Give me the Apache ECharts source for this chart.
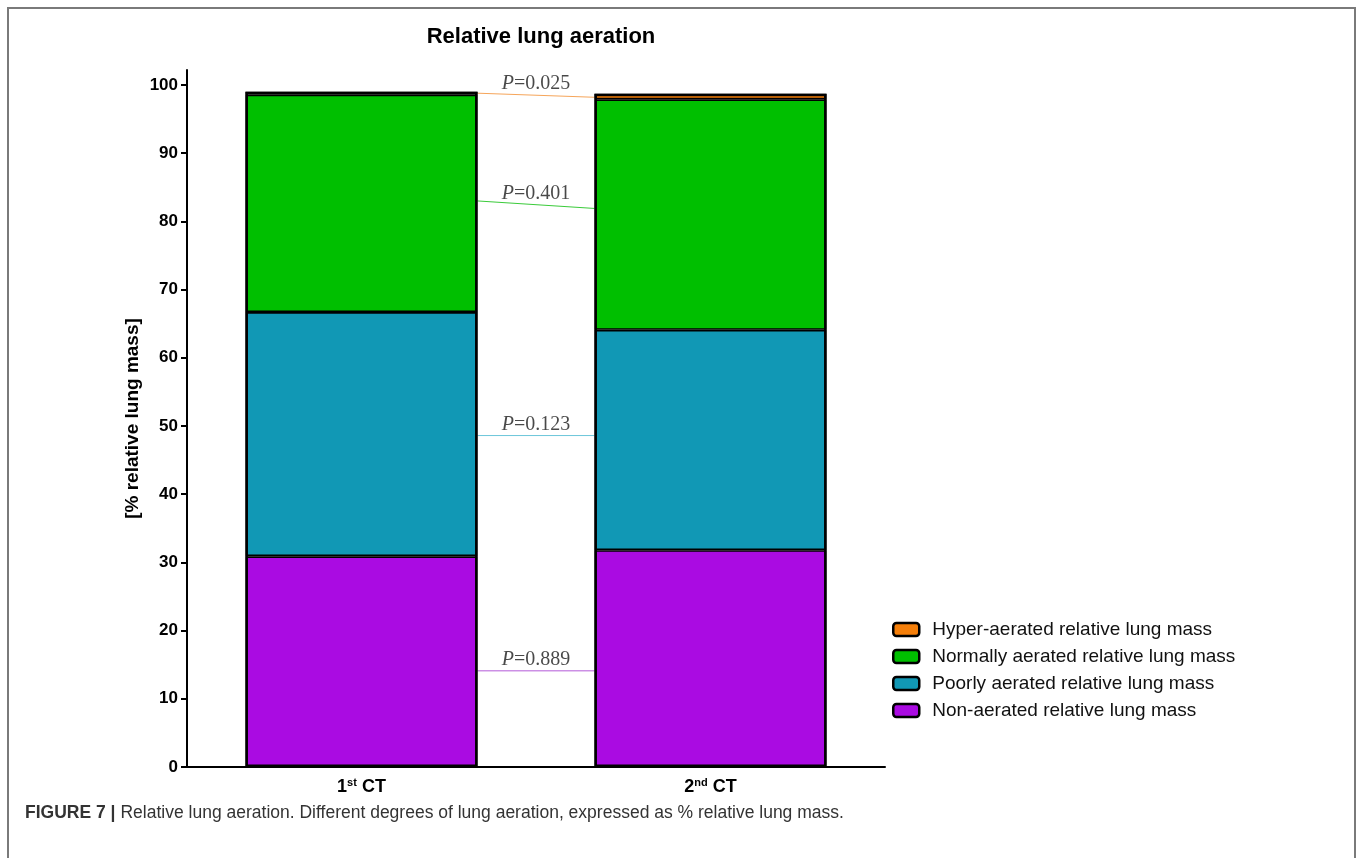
<!DOCTYPE html>
<html>
<head>
<meta charset="utf-8">
<script src="https://cdn.jsdelivr.net/npm/echarts@6/dist/echarts.min.js"></script>
<style>
  html, body { margin: 0; padding: 0; background: #ffffff; }
  #chart { width: 1357px; height: 858px; }
</style>
</head>
<body>
<div id="chart"></div>
<script>
// Scan time points
const categories = ['1st', '2nd'];

// Relative lung mass per aeration class, % (stacked bottom to top)
const nonAerated      = [30.9, 31.8];
const poorlyAerated   = [35.8, 32.3];
const normallyAerated = [31.9, 33.8];
const hyperAerated    = [0.4, 0.8];

const seriesNames = [
  'Non-aerated relative lung mass',
  'Poorly aerated relative lung mass',
  'Normally aerated relative lung mass',
  'Hyper-aerated relative lung mass'
];

// Comparison lines between the two scans: level at the 1st and 2nd bar, and P value
const pLeft   = [98.8, 83.0, 48.6, 14.1];
const pRight  = [98.2, 81.9, 48.6, 14.1];
const pValues = ['0.025', '0.401', '0.123', '0.889'];

const yTicks = [0, 10, 20, 30, 40, 50, 60, 70, 80, 90, 100];

const fillColors = ['#AA0BE2', '#1198B5', '#00BF00', '#F57F0A'];
const lineColors = ['#B45AD8', '#6CC6DA', '#3ACB3A', '#F6A55A'];

const BAR_FRACTION = 0.665; // bar width as a share of the category band
const sans = '"Liberation Sans", Arial, sans-serif';
const serif = '"Liberation Serif", "Times New Roman", serif';

const valueArrays = [nonAerated, poorlyAerated, normallyAerated, hyperAerated];

const barSeries = valueArrays.map((vals, i) => ({
  name: seriesNames[i],
  type: 'bar',
  stack: 'lung',
  barWidth: (BAR_FRACTION * 100) + '%',
  barGap: '-100%',
  data: vals,
  itemStyle: { color: fillColors[i], borderColor: '#000', borderWidth: 1.7 },
  emphasis: { disabled: true },
  z: 2
}));

// Heavy outline around each whole stacked column
const totals = categories.map((_, k) => valueArrays.reduce((s, arr) => s + arr[k], 0));
const outlineSeries = {
  name: 'outline',
  type: 'bar',
  barWidth: (BAR_FRACTION * 100) + '%',
  barGap: '-100%',
  data: totals,
  silent: true,
  itemStyle: { color: 'rgba(0,0,0,0)', borderColor: '#000', borderWidth: 2.5 },
  emphasis: { disabled: true },
  z: 3
};

// Connectors sit on a hidden continuous x axis where category k spans [k, k+1]
const leftEdge = 0.5 + BAR_FRACTION / 2;
const rightEdge = 1.5 - BAR_FRACTION / 2;
const order = [3, 2, 1, 0]; // connectors listed from top (hyper) to bottom (non)

const lineSeries = pLeft.map((lv, j) => ({
  type: 'line',
  xAxisIndex: 1,
  yAxisIndex: 0,
  data: [[leftEdge, lv], [rightEdge, pRight[j]]],
  symbol: 'none',
  silent: true,
  lineStyle: { color: lineColors[order[j]], width: 1 },
  z: 1
}));

const labelSeries = {
  type: 'scatter',
  xAxisIndex: 1,
  yAxisIndex: 0,
  symbolSize: 0,
  silent: true,
  data: pLeft.map((lv, j) => ({ value: [1, (lv + pRight[j]) / 2], p: pValues[j] })),
  label: {
    show: true,
    position: 'top',
    distance: 1,
    formatter: (prm) => '{i|P}{n|=' + prm.data.p + '}',
    rich: {
      i: { fontFamily: serif, fontStyle: 'italic', fontSize: 20, color: '#1a1a1a' },
      n: { fontFamily: serif, fontSize: 20, color: '#1a1a1a' }
    }
  }
};

const chart = echarts.init(document.getElementById('chart'), null, { renderer: 'canvas' });

chart.setOption({
  backgroundColor: '#ffffff',
  animation: false,
  graphic: [{
    type: 'rect',
    shape: { x: 8, y: 8, width: 1347, height: 900 },
    style: { fill: 'none', stroke: '#7a7a7a', lineWidth: 2 },
    silent: true
  }],
  title: [
    {
      text: 'Relative lung aeration',
      left: 536,
      top: 21,
      textAlign: 'center',
      textStyle: { fontFamily: sans, fontWeight: 'bold', fontSize: 22, color: '#000' }
    },
    {
      text: '{b|FIGURE 7 |} {r|Relative lung aeration. Different degrees of lung aeration, expressed as % relative lung mass.}',
      left: 20,
      top: 799,
      textStyle: {
        fontWeight: 'normal',
        rich: {
          b: { fontFamily: sans, fontWeight: 'bold', fontSize: 17.5, color: '#333' },
          r: { fontFamily: sans, fontWeight: 'normal', fontSize: 17.5, color: '#333' }
        }
      }
    }
  ],
  legend: {
    data: seriesNames.slice().reverse(),
    orient: 'vertical',
    left: 887,
    top: 615,
    itemWidth: 26,
    itemHeight: 13,
    itemGap: 8,
    icon: 'roundRect',
    itemStyle: { borderColor: '#000', borderWidth: 2.5 },
    textStyle: { fontFamily: sans, fontSize: 19, color: '#111', padding: [0, 0, 0, 8] },
    selectedMode: false
  },
  grid: { left: 187, right: 472, top: 70, bottom: 91, containLabel: false },
  xAxis: [
    {
      type: 'category',
      data: categories,
      axisLine: { lineStyle: { color: '#000', width: 2 } },
      axisTick: { alignWithLabel: true, length: 7, lineStyle: { color: '#000', width: 2 } },
      axisLabel: {
        margin: 10,
        formatter: (v) => {
          const num = v.replace(/\D/g, '');
          const suf = v.replace(/\d/g, '');
          return '{n|' + num + '}{s|' + suf + '}{n| CT}';
        },
        rich: {
          n: { fontFamily: sans, fontWeight: 'bold', fontSize: 18, color: '#000', verticalAlign: 'bottom' },
          s: { fontFamily: sans, fontWeight: 'bold', fontSize: 11, color: '#000', verticalAlign: 'top', padding: [0, 0, 8, 0] }
        }
      }
    },
    { type: 'value', min: 0, max: 2, show: false }
  ],
  yAxis: {
    type: 'value',
    min: 0,
    max: 102.2,
    name: '[% relative lung mass]',
    nameLocation: 'middle',
    nameGap: 45,
    nameMoveOverlap: false,
    nameRotate: 90,
    nameTextStyle: { fontFamily: sans, fontWeight: 'bold', fontSize: 19, color: '#000' },
    splitLine: { show: false },
    axisLine: { show: true, lineStyle: { color: '#000', width: 2 } },
    axisTick: { show: true, length: 6, customValues: yTicks, lineStyle: { color: '#000', width: 2 } },
    axisLabel: {
      customValues: yTicks,
      margin: 9,
      fontFamily: sans,
      fontWeight: 'bold',
      fontSize: 17,
      color: '#000'
    }
  },
  series: [...barSeries, outlineSeries, ...lineSeries, labelSeries]
});
</script>
</body>
</html>
